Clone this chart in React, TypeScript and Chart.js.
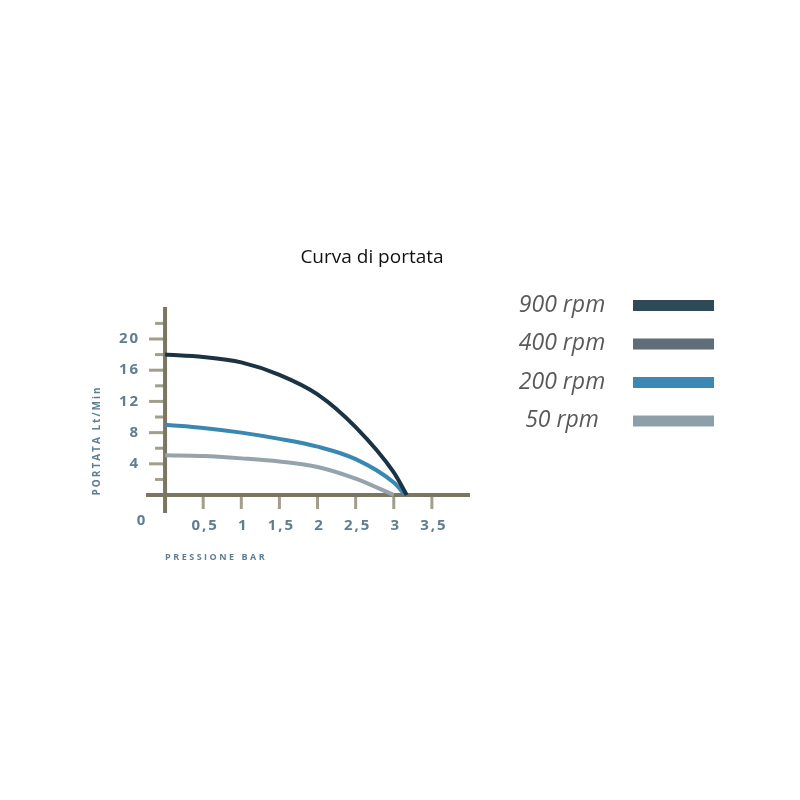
import { useEffect, useRef } from "react";
import { Chart, registerables, Plugin } from "chart.js";

Chart.register(...registerables);

// --- data ---
const seriesLabels = ["900 rpm", "400 rpm", "200 rpm", "50 rpm"];

const rpm900 = [
  { x: 0, y: 18 },
  { x: 0.5, y: 17.7 },
  { x: 1, y: 17.0 },
  { x: 1.5, y: 15.4 },
  { x: 2, y: 12.9 },
  { x: 2.5, y: 8.7 },
  { x: 3, y: 2.9 },
  { x: 3.17, y: 0 },
];
const rpm400: { x: number; y: number }[] = []; // in legend only, no curve drawn
const rpm200 = [
  { x: 0, y: 9.0 },
  { x: 0.5, y: 8.6 },
  { x: 1, y: 8.0 },
  { x: 1.5, y: 7.2 },
  { x: 2, y: 6.2 },
  { x: 2.5, y: 4.6 },
  { x: 3, y: 1.6 },
  { x: 3.15, y: 0 },
];
const rpm50 = [
  { x: 0, y: 5.1 },
  { x: 0.5, y: 5.0 },
  { x: 1, y: 4.7 },
  { x: 1.5, y: 4.3 },
  { x: 2, y: 3.6 },
  { x: 2.5, y: 2.1 },
  { x: 3, y: 0 },
];

const lineColors = ["#1b3343", "#5e6d77", "#3a88b1", "#94a3ac"];
const legendColors = ["#2f4a57", "#5e6d77", "#3b88b4", "#8d9fa9"];

const yMajorTicks = [4, 8, 12, 16, 20];
const yMinorTicks = [2, 6, 10, 14, 18, 22];
const xTicks = [0.5, 1, 1.5, 2, 2.5, 3, 3.5];
const xTickLabels = ["0,5", "1", "1,5", "2", "2,5", "3", "3,5"];

const AXIS = "#7b7661";
const TICK = "#a29e8a";
const LABEL = "#5d7e93";

const decorPlugin: Plugin<"line"> = {
  id: "decor",
  beforeDatasetsDraw(chart) {
    const { ctx, chartArea } = chart;
    const xs = chart.scales.x;
    const ys = chart.scales.y;
    const x0 = xs.getPixelForValue(0);
    const y0 = ys.getPixelForValue(0);
    ctx.save();

    // tick marks
    ctx.strokeStyle = TICK;
    ctx.lineWidth = 3;
    ctx.lineCap = "butt";
    yMinorTicks.forEach((v) => {
      const y = ys.getPixelForValue(v);
      ctx.beginPath();
      ctx.moveTo(x0 - 10, y);
      ctx.lineTo(x0, y);
      ctx.stroke();
    });
    yMajorTicks.forEach((v) => {
      const y = ys.getPixelForValue(v);
      ctx.beginPath();
      ctx.moveTo(x0 - 16, y);
      ctx.lineTo(x0, y);
      ctx.stroke();
    });
    xTicks.forEach((v) => {
      const x = xs.getPixelForValue(v);
      ctx.beginPath();
      ctx.moveTo(x, y0);
      ctx.lineTo(x, y0 + 14);
      ctx.stroke();
    });

    // axis lines
    ctx.strokeStyle = AXIS;
    ctx.lineWidth = 4;
    ctx.beginPath();
    ctx.moveTo(x0, chartArea.top);
    ctx.lineTo(x0, chartArea.bottom);
    ctx.moveTo(chartArea.left, y0);
    ctx.lineTo(chartArea.right, y0);
    ctx.stroke();

    // tick labels
    ctx.fillStyle = LABEL;
    ctx.font = "bold 15px 'Open Sans', sans-serif";
    (ctx as any).letterSpacing = "2px";
    ctx.textBaseline = "middle";
    ctx.textAlign = "right";
    yMajorTicks.forEach((v) => {
      ctx.fillText(String(v), x0 - 25, ys.getPixelForValue(v));
    });
    ctx.textAlign = "center";
    xTicks.forEach((v, i) => {
      ctx.fillText(xTickLabels[i], xs.getPixelForValue(v) + 2, y0 + 31);
    });
    ctx.fillText("0", x0 - 23, y0 + 26);

    // axis titles
    ctx.font = "bold 9px 'Open Sans', sans-serif";
    (ctx as any).letterSpacing = "2.5px";
    ctx.textAlign = "left";
    ctx.fillText("PRESSIONE BAR", x0, y0 + 62);
    ctx.save();
    ctx.font = "bold 10px 'Open Sans', sans-serif";
    (ctx as any).letterSpacing = "2px";
    ctx.translate(x0 - 68, ys.getPixelForValue(7.0));
    ctx.rotate(-Math.PI / 2);
    ctx.textAlign = "center";
    ctx.fillText("PORTATA Lt/Min", 0, 0);
    ctx.restore();

    // title
    (ctx as any).letterSpacing = "0px";
    ctx.fillStyle = "#111";
    ctx.font = "19px 'Open Sans', sans-serif";
    ctx.textAlign = "center";
    ctx.fillText("Curva di portata", 372, 258);

    // legend
    ctx.font = "italic 23px 'Open Sans', sans-serif";
    chart.data.datasets.forEach((ds, i) => {
      const y = 305 + i * 38.5;
      ctx.fillStyle = "#58595b";
      ctx.textAlign = "center";
      ctx.fillText(String(ds.label), 562, y);
      ctx.fillStyle = legendColors[i];
      ctx.fillRect(633, y - 5, 81, 11);
    });

    ctx.restore();
  },
};

export default function App() {
  const canvasRef = useRef<HTMLCanvasElement | null>(null);

  useEffect(() => {
    document.body.style.margin = "0";
    if (!canvasRef.current) return;
    const series = [rpm900, rpm400, rpm200, rpm50];
    const chart = new Chart(canvasRef.current, {
      type: "line",
      data: {
        datasets: series.map((d, i) => ({
          label: seriesLabels[i],
          data: d,
          borderColor: lineColors[i],
          backgroundColor: lineColors[i],
          borderWidth: 4,
          pointRadius: 0,
          fill: false,
          cubicInterpolationMode: "monotone" as const,
        })),
      },
      options: {
        animation: false,
        responsive: true,
        maintainAspectRatio: false,
        layout: { padding: { left: 146, right: 330, top: 307, bottom: 287 } },
        plugins: {
          legend: { display: false },
          tooltip: { enabled: false },
          title: { display: false },
        },
        scales: {
          x: { type: "linear", min: -0.25, max: 4, display: false },
          y: { type: "linear", min: -2.3, max: 24.1, display: false },
        },
      },
      plugins: [decorPlugin],
    });
    return () => chart.destroy();
  }, []);

  return (
    <div style={{ width: 800, height: 800, background: "#fff" }}>
      <canvas ref={canvasRef} />
    </div>
  );
}
